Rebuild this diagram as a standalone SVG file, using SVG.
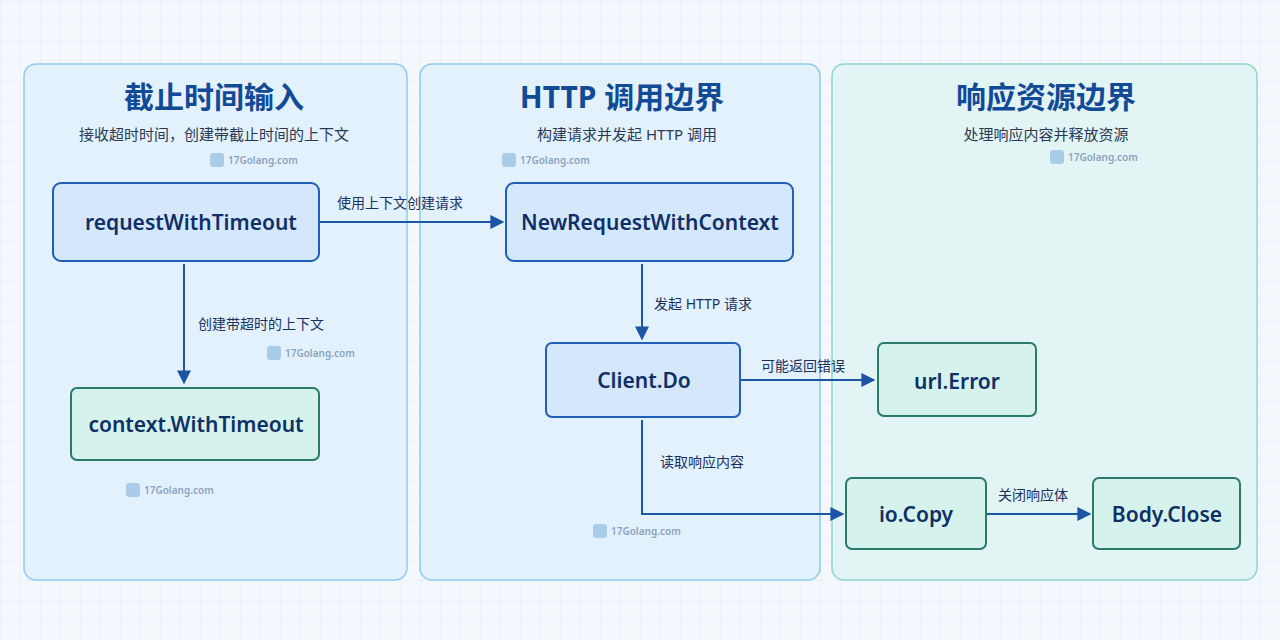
<svg xmlns="http://www.w3.org/2000/svg" width="1280" height="640" viewBox="0 0 1280 640">
<defs>
<pattern id="grid" width="20" height="20" patternUnits="userSpaceOnUse"><path d="M20 0H0V20" fill="none" stroke="#e3ebf3" stroke-width="1"/></pattern>
<marker id="ah" viewBox="0 0 10 10" refX="9" refY="5" markerWidth="7" markerHeight="7" orient="auto"><path d="M0 0L10 5L0 10z" fill="#1d55a6"/></marker>
<style>
text{font-family:"Noto Sans","Noto Sans CJK SC",sans-serif}
.title{font-size:30px;font-weight:700;fill:#124a96;text-anchor:middle}
.sub{font-size:15px;fill:#2a3a55;text-anchor:middle}
.nl{font-size:21px;font-weight:600;fill:#0f2f66;text-anchor:middle}
.el{font-size:14px;fill:#1a3060}
.blue{fill:#d4e7fb;stroke:#1f5fb5;stroke-width:2}
.green{fill:#d5f3ec;stroke:#2a7a6a;stroke-width:2}
.edge{stroke:#1d55a6;stroke-width:2;fill:none;marker-end:url(#ah)}
.wm{font-size:10px;fill:#8aa3bf;font-weight:600}
</style>
</defs>
<rect width="1280" height="640" fill="#f4f8fc"/>
<rect width="1280" height="640" fill="url(#grid)"/>
<g id="lane1"><rect x="24" y="64" width="383" height="516" rx="12" fill="#e3f1fc" stroke="#8ccbeb" stroke-width="1.5"/>
<text class="title" x="214" y="108">截止时间输入</text><text class="sub" x="214" y="140">接收超时时间，创建带截止时间的上下文</text></g>
<g id="lane2"><rect x="420" y="64" width="400" height="516" rx="12" fill="#e3f1fc" stroke="#8ccbeb" stroke-width="1.5"/>
<text class="title" x="622" y="108">HTTP 调用边界</text><text class="sub" x="627" y="140">构建请求并发起 HTTP 调用</text></g>
<g id="lane3"><rect x="832" y="64" width="425" height="516" rx="12" fill="#e2f4f4" stroke="#8cd6cf" stroke-width="1.5"/>
<text class="title" x="1046" y="108">响应资源边界</text><text class="sub" x="1046" y="140">处理响应内容并释放资源</text></g>
<g class="wm-g">
<g transform="translate(210,153)"><rect width="14" height="14" rx="3" fill="#a9cde8"/><text class="wm" x="18" y="11">17Golang.com</text></g>
<g transform="translate(502,153)"><rect width="14" height="14" rx="3" fill="#a9cde8"/><text class="wm" x="18" y="11">17Golang.com</text></g>
<g transform="translate(1050,150)"><rect width="14" height="14" rx="3" fill="#a9cde8"/><text class="wm" x="18" y="11">17Golang.com</text></g>
<g transform="translate(267,346)"><rect width="14" height="14" rx="3" fill="#a9cde8"/><text class="wm" x="18" y="11">17Golang.com</text></g>
<g transform="translate(912,349)"><rect width="14" height="14" rx="3" fill="#a9cde8"/><text class="wm" x="18" y="11">17Golang.com</text></g>
<g transform="translate(126,483)"><rect width="14" height="14" rx="3" fill="#a9cde8"/><text class="wm" x="18" y="11">17Golang.com</text></g>
<g transform="translate(1100,482)"><rect width="14" height="14" rx="3" fill="#a9cde8"/><text class="wm" x="18" y="11">17Golang.com</text></g>
<g transform="translate(593,524)"><rect width="14" height="14" rx="3" fill="#a9cde8"/><text class="wm" x="18" y="11">17Golang.com</text></g>
</g>
<g id="connectors">
<path class="edge" d="M319 222H503"/><text class="el" x="337" y="208">使用上下文创建请求</text>
<path class="edge" d="M184 264V383"/><text class="el" x="198" y="329">创建带超时的上下文</text>
<path class="edge" d="M642 264V339"/><text class="el" x="654" y="309">发起 HTTP 请求</text>
<path class="edge" d="M740 380H874"/><text class="el" x="761" y="371">可能返回错误</text>
<path class="edge" d="M642 420V514H843"/><text class="el" x="660" y="467">读取响应内容</text>
<path class="edge" d="M987 514H1090"/><text class="el" x="998" y="500">关闭响应体</text>
</g>
<g id="n1"><rect class="blue" x="53" y="183" width="266" height="78" rx="8"/><text class="nl" x="191" y="230">requestWithTimeout</text></g>
<g id="n2"><rect class="green" x="71" y="388" width="248" height="72" rx="6"/><text class="nl" x="196" y="432">context.WithTimeout</text></g>
<g id="n3"><rect class="blue" x="506" y="183" width="287" height="78" rx="8"/><text class="nl" x="650" y="230">NewRequestWithContext</text></g>
<g id="n4"><rect class="blue" x="546" y="343" width="194" height="74" rx="6"/><text class="nl" x="644" y="388">Client.Do</text></g>
<g id="n5"><rect class="green" x="878" y="343" width="158" height="73" rx="6"/><text class="nl" x="957" y="389">url.Error</text></g>
<g id="n6"><rect class="green" x="846" y="478" width="140" height="71" rx="6"/><text class="nl" x="916" y="522">io.Copy</text></g>
<g id="n7"><rect class="green" x="1093" y="478" width="147" height="71" rx="6"/><text class="nl" x="1167" y="522">Body.Close</text></g>
</svg>
